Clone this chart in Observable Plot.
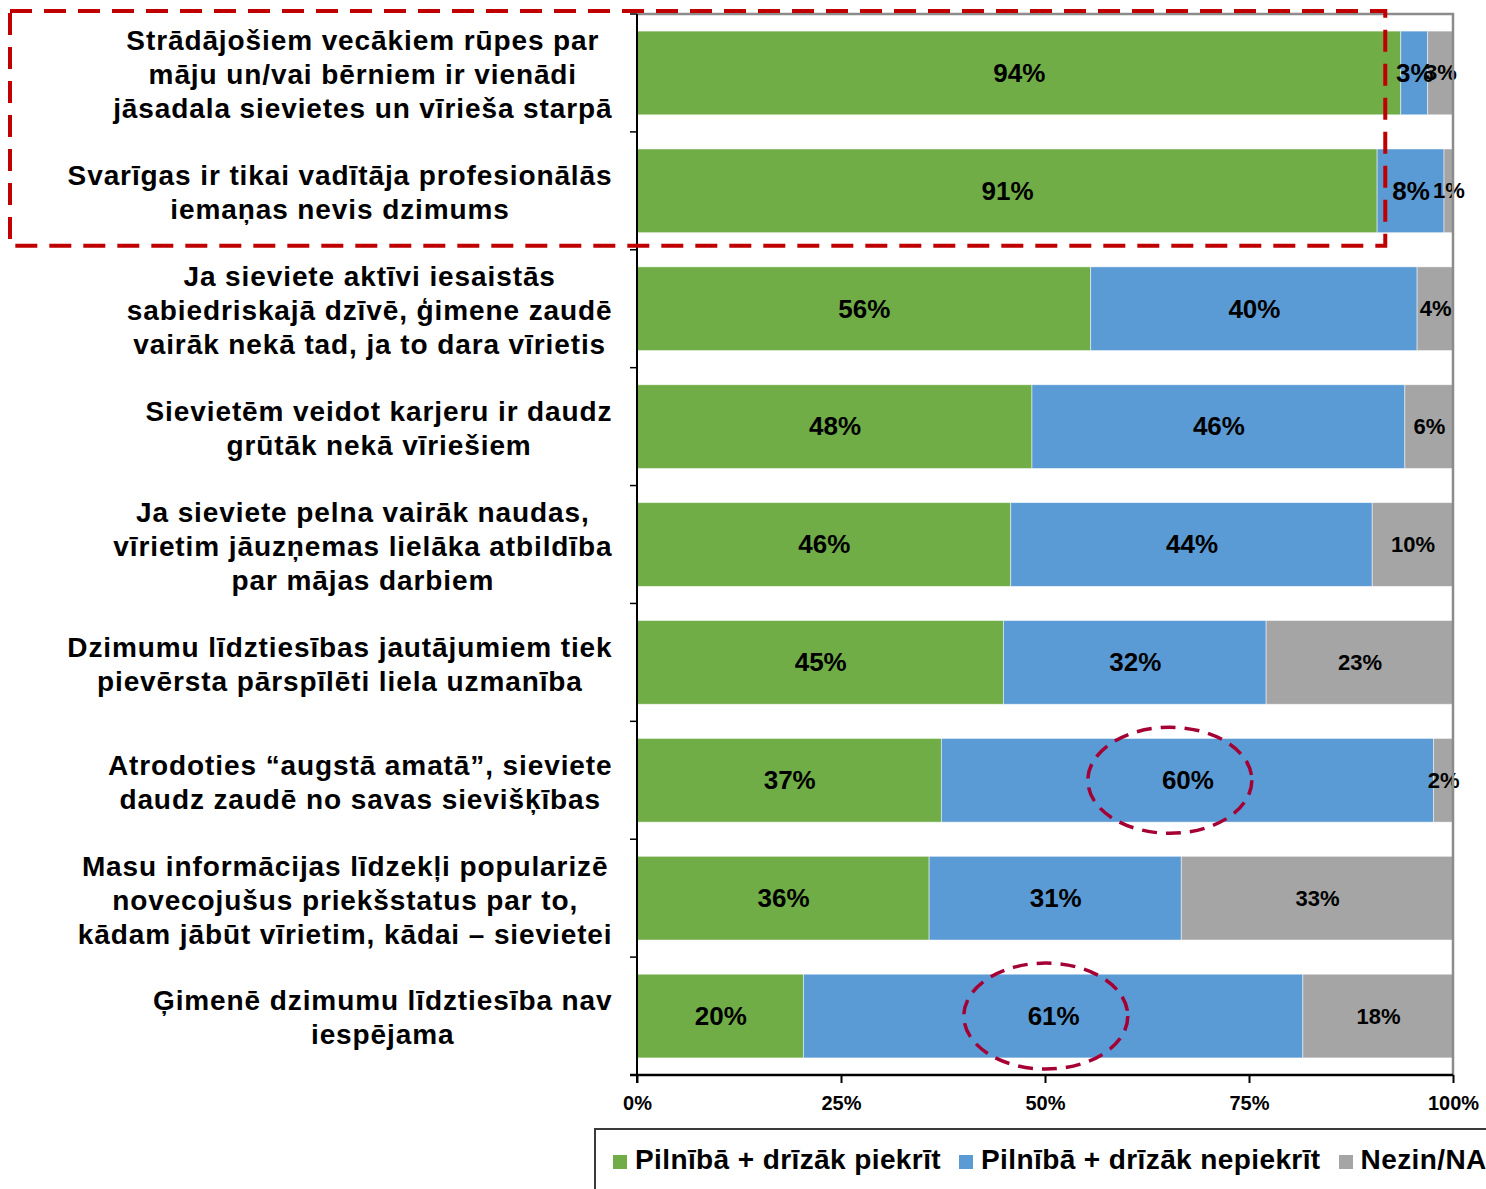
<!DOCTYPE html>
<html>
<head>
<meta charset="utf-8">
<script src="https://cdn.jsdelivr.net/npm/d3@7"></script>
<script src="https://cdn.jsdelivr.net/npm/@observablehq/plot@0.6"></script>
<style>
  html, body { margin: 0; padding: 0; background: #fff; overflow: hidden; }
  body { width: 1486px; height: 1189px; font-family: "Liberation Sans", Arial, sans-serif; }
  #chart svg { display: block; }
  #legend {
    margin-left: 594px; margin-top: 4px; width: 1000px; height: 72px;
    border: 2px solid #3a3a3a; box-sizing: border-box;
    display: flex; align-items: center; padding-left: 17px; padding-bottom: 8px;
    font-weight: bold; font-size: 28px; letter-spacing: 0.4px; white-space: nowrap; color: #000;
  }
  #legend .item { display: flex; align-items: center; margin-right: 18px; }
  #legend .sw { width: 14px; height: 14px; margin-right: 8px; margin-top: 4px; }
</style>
</head>
<body>
<div id="chart"></div>
<div id="legend"></div>
<script>
// ---- data ----
const categories = [
  "Strādājošiem vecākiem rūpes par\nmāju un/vai bērniem ir vienādi\njāsadala sievietes un vīrieša starpā",
  "Svarīgas ir tikai vadītāja profesionālās\niemaņas nevis dzimums",
  "Ja sieviete aktīvi iesaistās\nsabiedriskajā dzīvē, ģimene zaudē\nvairāk nekā tad, ja to dara vīrietis",
  "Sievietēm veidot karjeru ir daudz\ngrūtāk nekā vīriešiem",
  "Ja sieviete pelna vairāk naudas,\nvīrietim jāuzņemas lielāka atbildība\npar mājas darbiem",
  "Dzimumu līdztiesības jautājumiem tiek\npievērsta pārspīlēti liela uzmanība",
  "Atrodoties “augstā amatā”, sieviete\ndaudz zaudē no savas sievišķības",
  "Masu informācijas līdzekļi popularizē\nnovecojušus priekšstatus par to,\nkādam jābūt vīrietim, kādai – sievietei",
  "Ģimenē dzimumu līdztiesība nav\niespējama"
];
const agree    = [93.6, 90.7, 55.6, 48.4, 45.8, 44.9, 37.3, 35.8, 20.4];
const disagree = [3.3, 8.2, 40.0, 45.7, 44.3, 32.2, 60.3, 30.9, 61.2];
const unknown  = [3.1, 1.1, 4.4, 5.9, 9.9, 22.9, 2.4, 33.3, 18.4];
const seriesNames = ["Pilnībā + drīzāk piekrīt", "Pilnībā + drīzāk nepiekrīt", "Nezin/NA"];
const seriesColors = ["#70AD47", "#5B9BD5", "#A5A5A5"];
const xTicks = [0, 25, 50, 75, 100];
// annotations
const boxedRows = [0, 1];
const boxedRightEdge = 91.7;
const circled = [{row: 6, center: 65.3}, {row: 8, center: 50.1}];

// ---- table ----
const seriesValues = [agree, disagree, unknown];
const table = [];
categories.forEach((c, i) => {
  seriesNames.forEach((s, j) => table.push({q: c, type: s, value: seriesValues[j][i]}));
});
const fmt = v => Math.round(v) + "%";

// ---- measure category label widths ----
const FONT = "'Liberation Sans', Arial, sans-serif";
const LS = 0.9, LFS = 28;
const ctx = document.createElement("canvas").getContext("2d");
ctx.font = `bold ${LFS}px ${FONT}`;
const widthOf = label => d3.max(label.split("\n"), l => ctx.measureText(l).width + LS * l.length);

const W = 1486, H = 1124;
const labelGap = 25;

const labelMarks = categories.map(c =>
  Plot.text([c], {
    x: () => 0, y: d => d, text: d => d,
    dx: -(labelGap + widthOf(c) / 2),
    textAnchor: "middle", lineHeight: 34 / LFS,
    fontSize: LFS, fontWeight: "bold", fill: "#000",
    ariaLabel: () => "category-label"
  })
);

const chart = Plot.plot({
  width: W, height: H,
  marginLeft: 637, marginRight: 33, marginTop: 14, marginBottom: 49,
  style: {fontFamily: FONT, background: "#fff", color: "#000"},
  x: {domain: [0, 100], ticks: xTicks},
  y: {domain: categories, paddingInner: 0.29, paddingOuter: 0.145, round: false, axis: null},
  color: {domain: seriesNames, range: seriesColors},
  marks: [
    Plot.barX(table, Plot.stackX({x: "value", y: "q", fill: "type", z: "type", stroke: "#fff", strokeWidth: 0.8, strokeOpacity: 0.6})),
    Plot.text(table.filter(d => d.type !== seriesNames[2]), Plot.stackX({
      x: "value", y: "q", z: "type", text: d => fmt(d.value),
      fontSize: 26, fontWeight: "bold", fill: "#000"
    })),
    Plot.text(table, Plot.stackX({
      x: "value", y: "q", z: "type",
      text: d => d.type === seriesNames[2] ? fmt(d.value) : "",
      fontSize: 22, fontWeight: "bold", fill: "#000"
    })),
    Plot.axisX({ticks: xTicks, tickFormat: d => d + "%", tickSize: 8, tickPadding: 12,
      fontSize: 20, fontWeight: "bold", label: null, stroke: "#000", strokeWidth: 2, fill: "#000"}),
    ...labelMarks
  ]
});
document.getElementById("chart").appendChild(chart);

// letter spacing for the category labels (multi-line texts)
const svgSel = d3.select(chart);
svgSel.selectAll("text").filter(function () { return this.querySelector("tspan") !== null; })
  .style("letter-spacing", LS + "px");

// ---- frame, axis lines and annotations drawn from the scales ----
const xs = chart.scale("x"), ys = chart.scale("y");
const bw = ys.bandwidth, step = ys.step;
const bounds = categories.map(c => ys.apply(c) - (step - bw) / 2);
bounds.push(bounds[bounds.length - 1] + step);
const frameTop = bounds[0], frameBottom = bounds[bounds.length - 1];
const x0 = xs.apply(0), x100 = xs.apply(100);
const g = svgSel.append("g");
// gray plot-area border (top, right)
g.append("path").attr("d", `M${x0},${frameTop}H${x100}V${frameBottom}`).attr("fill", "none")
  .attr("stroke", "#8c8c8c").attr("stroke-width", 2.5);
// black left axis and separators
g.append("line").attr("x1", x0).attr("x2", x0).attr("y1", frameTop).attr("y2", frameBottom + 8)
  .attr("stroke", "#000").attr("stroke-width", 2);
bounds.forEach(b => g.append("line").attr("x1", x0 - 7).attr("x2", x0).attr("y1", b).attr("y2", b)
  .attr("stroke", "#000").attr("stroke-width", 1.5));
// black bottom axis line
g.append("line").attr("x1", x0 - 7).attr("x2", x100).attr("y1", frameBottom).attr("y2", frameBottom)
  .attr("stroke", "#000").attr("stroke-width", 2.5);
// red dashed box around first two rows
const boxTop = bounds[boxedRows[0]] - 3;
const boxBottom = bounds[boxedRows[boxedRows.length - 1] + 1] - 4;
g.append("rect").attr("x", 10).attr("y", boxTop)
  .attr("width", xs.apply(boxedRightEdge) - 10).attr("height", boxBottom - boxTop)
  .attr("fill", "none").attr("stroke", "#C00000").attr("stroke-width", 4)
  .attr("stroke-dasharray", "22,12");
// dashed ellipses
circled.forEach(c => {
  g.append("ellipse").attr("cx", xs.apply(c.center)).attr("cy", ys.apply(categories[c.row]) + bw / 2)
    .attr("rx", 82).attr("ry", 53).attr("fill", "none")
    .attr("stroke", "#A50034").attr("stroke-width", 3.5).attr("stroke-dasharray", "15,9");
});

// ---- legend ----
const legend = d3.select("#legend");
seriesNames.forEach((s, i) => {
  const it = legend.append("div").attr("class", "item");
  it.append("div").attr("class", "sw").style("background", seriesColors[i]);
  it.append("span").text(s);
});
</script>
</body>
</html>
